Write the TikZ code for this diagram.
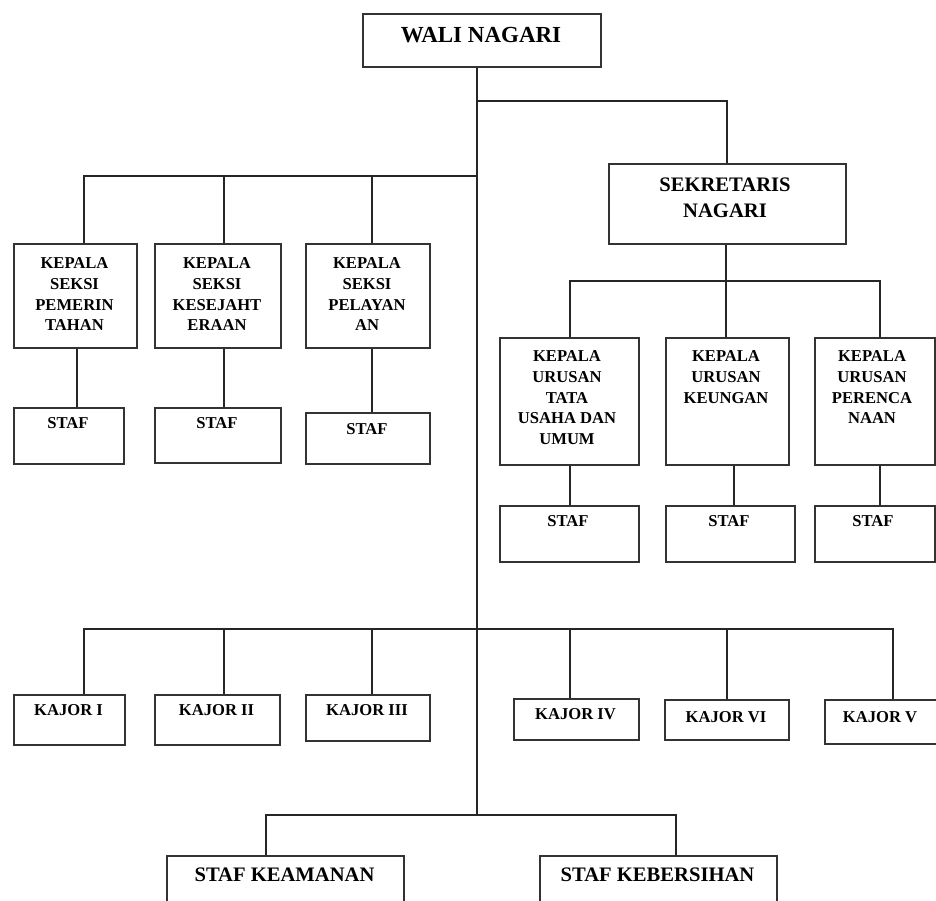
\documentclass[tikz,border=0pt]{standalone}
\usepackage{fontspec}
\setmainfont{Liberation Serif}
\begin{document}
\begin{tikzpicture}[x=1pt,y=-1pt,
  box/.style={draw=black!80,line width=1.7pt,inner sep=0pt,anchor=north west,fill=white},
  conn/.style={draw=black!85,line width=1.4pt},
  lbl/.style={anchor=north,align=center,inner sep=0pt,font=\bfseries\fontsize{16.6}{20.7}\selectfont},
  big/.style={anchor=north,align=center,inner sep=0pt,font=\bfseries\fontsize{20.6}{26}\selectfont}]
\clip (0,0) rectangle (936,901);
\fill[white] (0,0) rectangle (936,901);
% bus coordinates
\coordinate (jw) at (477,65);
\coordinate (js) at (477,101);
\coordinate (jl) at (477,176);
\coordinate (jk) at (477,629);
\coordinate (jb) at (477,815);
% connectors
\draw[conn] (jw) -- (jb);
% boxes
\node[box,minimum width=238pt,minimum height=53pt] (wali) at (362,13) {};
\node[big,font=\bfseries\fontsize{23}{26}\selectfont] (walit) at (481,27.5) {WALI NAGARI};
\node[box,minimum width=237pt,minimum height=80pt] (sek) at (608,163) {};
\node[big] (sekt) at (725,177.5) {SEKRETARIS\\NAGARI};

\node[box,minimum width=123pt,minimum height=104pt] (ks1) at (13,243) {};
\node[lbl] (ks1t) at (74.5,257.5) {KEPALA\\SEKSI\\PEMERIN\\TAHAN};
\node[box,minimum width=126pt,minimum height=104pt] (ks2) at (154,243) {};
\node[lbl] (ks2t) at (217,257.5) {KEPALA\\SEKSI\\KESEJAHT\\ERAAN};
\node[box,minimum width=124pt,minimum height=104pt] (ks3) at (305,243) {};
\node[lbl] (ks3t) at (367,257.5) {KEPALA\\SEKSI\\PELAYAN\\AN};

\node[box,minimum width=110pt,minimum height=56pt] (s1) at (13,407) {};
\node[lbl] (s1t) at (68,417.5) {STAF};
\node[box,minimum width=126pt,minimum height=55pt] (s2) at (154,407) {};
\node[lbl] (s2t) at (217,417.5) {STAF};
\node[box,minimum width=124pt,minimum height=51pt] (s3) at (305,412) {};
\node[lbl] (s3t) at (367,423) {STAF};

\node[box,minimum width=139pt,minimum height=127pt] (ku1) at (499,337) {};
\node[lbl] (ku1t) at (567,350.5) {KEPALA\\URUSAN\\TATA\\USAHA DAN\\UMUM};
\node[box,minimum width=123pt,minimum height=127pt] (ku2) at (665,337) {};
\node[lbl] (ku2t) at (726,350.5) {KEPALA\\URUSAN\\KEUNGAN};
\node[box,minimum width=120pt,minimum height=127pt] (ku3) at (814,337) {};
\node[lbl] (ku3t) at (872,350.5) {KEPALA\\URUSAN\\PERENCA\\NAAN};

\node[box,minimum width=139pt,minimum height=56pt] (sr1) at (499,505) {};
\node[lbl] (sr1t) at (568,515) {STAF};
\node[box,minimum width=129pt,minimum height=56pt] (sr2) at (665,505) {};
\node[lbl] (sr2t) at (729,515) {STAF};
\node[box,minimum width=120pt,minimum height=56pt] (sr3) at (814,505) {};
\node[lbl] (sr3t) at (873,515) {STAF};

\node[box,minimum width=111pt,minimum height=50pt] (k1) at (13,694) {};
\node[lbl] (k1t) at (68.5,704.5) {KAJOR I};
\node[box,minimum width=125pt,minimum height=50pt] (k2) at (154,694) {};
\node[lbl] (k2t) at (216.5,704.5) {KAJOR II};
\node[box,minimum width=124pt,minimum height=46pt] (k3) at (305,694) {};
\node[lbl] (k3t) at (367,704.5) {KAJOR III};
\node[box,minimum width=125pt,minimum height=41pt] (k4) at (513,698) {};
\node[lbl] (k4t) at (575.5,708.5) {KAJOR IV};
\node[box,minimum width=124pt,minimum height=40pt] (k6) at (664,699) {};
\node[lbl] (k6t) at (726,711) {KAJOR VI};
\node[box,minimum width=114pt,minimum height=44pt] (k5) at (824,699) {};
\node[lbl] (k5t) at (880,711) {KAJOR V};

\node[box,minimum width=237pt,minimum height=80pt] (sk1) at (166,855) {};
\node[big] (sk1t) at (284.5,868) {STAF KEAMANAN};
\node[box,minimum width=237pt,minimum height=80pt] (sk2) at (539,855) {};
\node[big] (sk2t) at (657.5,868) {STAF KEBERSIHAN};

% connectors from buses
\draw[conn] (js) -- (727,101) -- (727,101 |- sek.north);
\draw[conn] (jl) -- (84,176) -- (84,176 |- ks1.north);
\draw[conn] (224,176) -- (224,176 |- ks2.north);
\draw[conn] (372,176) -- (372,176 |- ks3.north);
\draw[conn] (77,0 |- ks1.south) -- (77,0 |- s1.north);
\draw[conn] (224,0 |- ks2.south) -- (224,0 |- s2.north);
\draw[conn] (372,0 |- ks3.south) -- (372,0 |- s3.north);

\draw[conn] (726,0 |- sek.south) -- (726,281);
\draw[conn] (570,0 |- ku1.north) -- (570,281) -- (880,281) -- (880,0 |- ku3.north);
\draw[conn] (726,281) -- (726,0 |- ku2.north);
\draw[conn] (570,0 |- ku1.south) -- (570,0 |- sr1.north);
\draw[conn] (734,0 |- ku2.south) -- (734,0 |- sr2.north);
\draw[conn] (880,0 |- ku3.south) -- (880,0 |- sr3.north);

\draw[conn] (84,0 |- k1.north) -- (84,629) -- (893,629) -- (893,0 |- k5.north);
\draw[conn] (224,629) -- (224,0 |- k2.north);
\draw[conn] (372,629) -- (372,0 |- k3.north);
\draw[conn] (570,629) -- (570,0 |- k4.north);
\draw[conn] (727,629) -- (727,0 |- k6.north);

\draw[conn] (266,0 |- sk1.north) -- (266,815) -- (676,815) -- (676,0 |- sk2.north);
\end{tikzpicture}
\end{document}
